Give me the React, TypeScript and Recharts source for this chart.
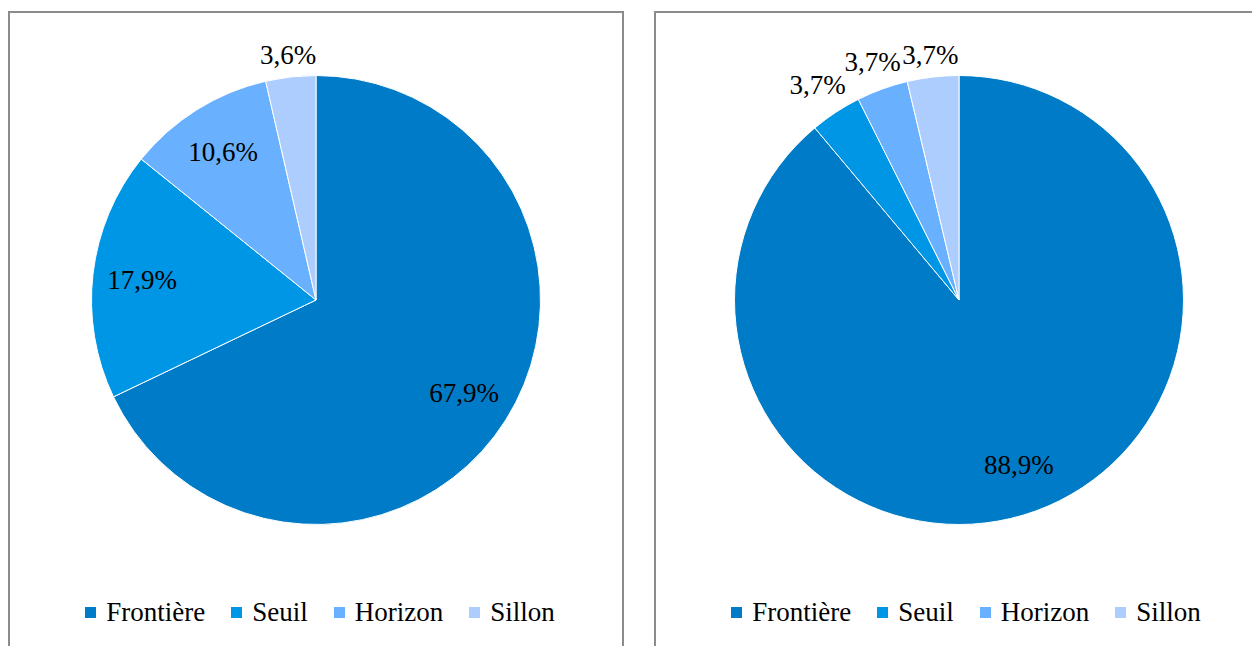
import React from 'react';
import { PieChart, Pie, Cell, Legend } from 'recharts';

const categories = ['Frontière', 'Seuil', 'Horizon', 'Sillon'];
const leftValues = [67.9, 17.9, 10.6, 3.6];
const rightValues = [88.9, 3.7, 3.7, 3.7];
const colors = ['#007BC7', '#0096E6', '#69B1FF', '#ADCDFF'];

const FONT = "'Liberation Serif', 'Times New Roman', Times, 'DejaVu Serif', serif";
const RAD = Math.PI / 180;

const fmt = (v: number) => v.toFixed(1).replace('.', ',') + '%';

function renderLabel(props: any) {
  const { cx, cy, midAngle, outerRadius, percent, value } = props;
  const text = fmt(value);
  const ux = Math.cos(-midAngle * RAD);
  const uy = Math.sin(-midAngle * RAD);
  let r: number;
  if (percent > 0.05) {
    r = outerRadius * 0.78;
  } else {
    r = outerRadius + 8 + 29 * Math.abs(ux) + 11 * Math.abs(uy);
  }
  const x = cx + r * ux;
  const y = cy + r * uy;
  return (
    <text
      x={x}
      y={y}
      textAnchor="middle"
      dominantBaseline="central"
      fill="#000"
      fontFamily={FONT}
      fontSize={27}
    >
      {text}
    </text>
  );
}

function LegendContent() {
  return (
    <div
      style={{
        display: 'flex',
        justifyContent: 'center',
        alignItems: 'center',
        gap: 26,
        fontFamily: FONT,
        fontSize: 27,
        lineHeight: '30px',
        color: '#000',
      }}
    >
      {categories.map((c, i) => (
        <div key={c} style={{ display: 'flex', alignItems: 'center' }}>
          <span
            style={{
              display: 'inline-block',
              width: 11,
              height: 11,
              background: colors[i],
              marginRight: 10,
            }}
          />
          <span style={{ fontFamily: FONT }}>{c}</span>
        </div>
      ))}
    </div>
  );
}

function Panel({ left, values, cx }: { left: number; values: number[]; cx: number }) {
  const data = categories.map((name, i) => ({ name, value: values[i] }));
  return (
    <div
      style={{
        position: 'absolute',
        left,
        top: 11,
        width: 616,
        height: 700,
        border: '2px solid #8c8c8c',
        boxSizing: 'border-box',
        background: '#fff',
        fontFamily: FONT,
      }}
    >
      <PieChart width={612} height={633} margin={{ top: 0, right: 0, bottom: 0, left: 0 }}>
        <Pie
          data={data}
          dataKey="value"
          nameKey="name"
          cx={cx}
          cy={287}
          outerRadius={224.5}
          startAngle={90}
          endAngle={-270}
          stroke="#ffffff"
          strokeWidth={1}
          label={renderLabel}
          labelLine={false}
          isAnimationActive={false}
        >
          {data.map((d, i) => (
            <Cell key={d.name} fill={colors[i]} />
          ))}
        </Pie>
        <Legend
          content={<LegendContent />}
          wrapperStyle={{ position: 'absolute', left: 4, top: 584, width: 612 }}
        />
      </PieChart>
    </div>
  );
}

export default function App() {
  return (
    <div
      style={{
        position: 'absolute',
        left: 0,
        top: 0,
        width: 1252,
        height: 646,
        overflow: 'hidden',
        background: '#fff',
      }}
    >
      <Panel left={8} values={leftValues} cx={306} />
      <Panel left={654} values={rightValues} cx={303} />
    </div>
  );
}
